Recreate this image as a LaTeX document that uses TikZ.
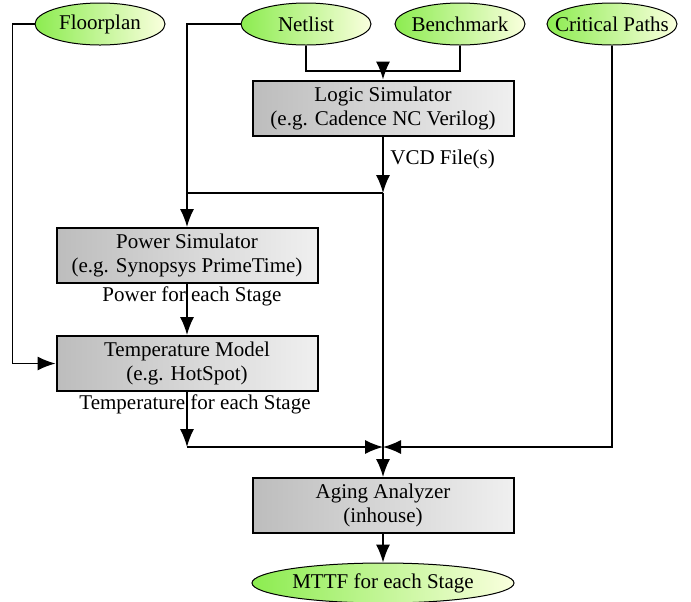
\documentclass[tikz,border=0pt]{standalone}
\usepackage{fontspec}
\setmainfont{Liberation Serif}
\usetikzlibrary{shapes.geometric,arrows.meta}
\definecolor{dataleft}{RGB}{140,236,80}
\definecolor{dataright}{RGB}{250,255,222}
\tikzset{flow/.style={-{Latex[length=9pt,width=7pt]}}}

\begin{document}
\begin{tikzpicture}[x=0.5pt,y=-0.5pt,
	font=\rmfamily\fontsize{10.5}{12}\selectfont,
	line width=0.7pt,
	tool/.style={draw,line width=1pt,left color=gray!52,right color=gray!12,minimum width=130.5pt,minimum height=27.5pt,align=center,inner sep=2pt},
	data/.style={ellipse,draw,line width=0.5pt,left color=dataleft,right color=dataright,minimum width=65pt,minimum height=21pt,inner xsep=-6.5pt,inner ysep=0pt}]
	\useasboundingbox (0,0) rectangle (691,601);
	% inputs
	\node[data] (floor) at (100,24) {Floorplan};
	\node[data] (net) at (306,24) {Netlist};
	\node[data] (bench) at (460,24) {Benchmark};
	\node[data] (crit) at (612,24) {Critical Paths};
	% tools
	\node[tool] (logic) at (383,108) {Logic Simulator\\(e.g. Cadence NC Verilog)};
	\node[tool] (power) at (187,255.5) {Power Simulator\\(e.g. Synopsys PrimeTime)};
	\node[tool] (temp) at (187,363.5) {Temperature Model\\(e.g. HotSpot)};
	\node[tool] (aging) at (383,505.5) {Aging Analyzer\\(inhouse)};
	\node[data,minimum width=131pt,minimum height=20pt,inner xsep=0pt] (mttf) at (383,583) {MTTF for each Stage};
	\node[anchor=north,inner sep=1pt] (pwrlbl) at ([xshift=2.5pt]power.south) {Power for each Stage};
	\node[anchor=north,inner sep=1pt] (templbl) at ([xshift=4pt]temp.south) {Temperature for each Stage};
	
	\coordinate (top) at (383,71);
	\coordinate (vcd) at (383,193);
	\coordinate (mrg) at (383,447);
	\coordinate (pwr) at (power.north |- vcd);
	\coordinate (tmp) at (temp.south |- mrg);
	
	\draw (net.south) |- (top);
	\draw (bench.south) |- (top);
	\draw[flow] (top) -- (logic);
	\draw[flow] (logic) -- (vcd) node[pos=0.4,right]{VCD File(s)};
	\draw (vcd) -- (mrg);
	\draw (pwr) -- (vcd);
	\draw[flow] (net.west) -| (power.north);
	\draw[flow] (power) -- (temp);
	\draw[flow] (floor.west) -- ++(-22,0) |- (temp.west);
	\draw[flow] (temp) -- (tmp);
	\draw[flow] (tmp) -- (mrg);
	\draw[flow] (crit.south) |- (mrg);
	\draw[flow] (mrg) -- (aging);
	\draw[flow] (aging) -- (mttf);
\end{tikzpicture}
\end{document}
